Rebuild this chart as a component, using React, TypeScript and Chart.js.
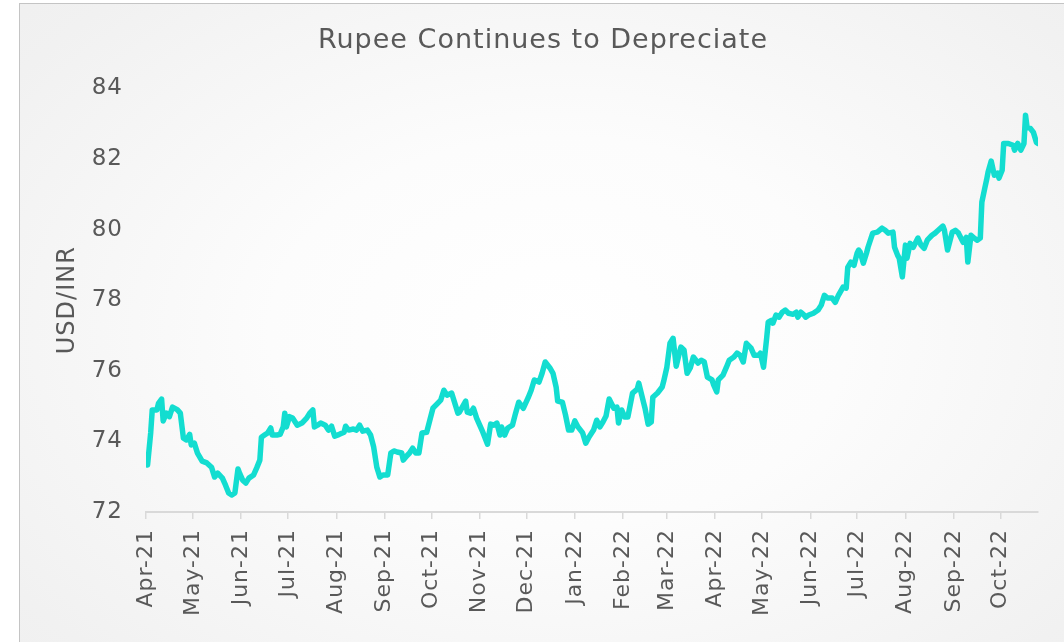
import React, { useEffect, useRef } from 'react';
import { Chart, registerables } from 'chart.js';

Chart.register(...registerables);

const TITLE = 'Rupee Continues to Depreciate';
const Y_TITLE = 'USD/INR';

const monthLabels = [
  'Apr-21', 'May-21', 'Jun-21', 'Jul-21', 'Aug-21', 'Sep-21', 'Oct-21', 'Nov-21', 'Dec-21',
  'Jan-22', 'Feb-22', 'Mar-22', 'Apr-22', 'May-22', 'Jun-22', 'Jul-22', 'Aug-22', 'Sep-22', 'Oct-22',
];

const Y_MIN = 72;
const Y_MAX = 84;
const Y_STEP = 2;

// 2021 observations (MM-DD) and USD/INR
const dates2021 = [
  '04-02', '04-04', '04-05', '04-08', '04-09', '04-11', '04-12', '04-14', '04-16', '04-18', '04-21', '04-23', '04-25', '04-27', '04-29', '04-30',
  '05-02', '05-04', '05-07', '05-10', '05-13', '05-15', '05-17', '05-20', '05-22', '05-24', '05-26', '05-28', '05-30', '05-31',
  '06-02', '06-04', '06-06', '06-09', '06-11', '06-13', '06-14', '06-16', '06-18', '06-20', '06-21', '06-24', '06-26', '06-28', '06-29', '06-30',
  '07-02', '07-04', '07-07', '07-10', '07-13', '07-15', '07-17', '07-18', '07-20', '07-22', '07-25', '07-27', '07-29', '07-31',
  '08-03', '08-06', '08-07', '08-09', '08-12', '08-14', '08-16', '08-18', '08-21', '08-23', '08-25', '08-27', '08-29', '08-31',
  '09-03', '09-05', '09-07', '09-09', '09-12', '09-13', '09-15', '09-17', '09-19', '09-21', '09-23', '09-25', '09-28', '09-30',
  '10-02', '10-05', '10-07', '10-09', '10-11', '10-14', '10-18', '10-19', '10-23', '10-24', '10-26', '10-28', '10-30',
  '11-01', '11-03', '11-06', '11-08', '11-10', '11-12', '11-14', '11-15', '11-17', '11-19', '11-22', '11-24', '11-26', '11-29',
  '12-02', '12-04', '12-06', '12-09', '12-11', '12-13', '12-16', '12-18', '12-20', '12-21', '12-24', '12-26', '12-28', '12-30',
];
const usdInr2021 = [
  73.33, 74.24, 74.89, 74.89, 75.08, 75.2, 74.58, 74.8, 74.7, 74.97, 74.9, 74.8, 74.09, 74.04, 74.2, 73.9,
  73.95, 73.67, 73.44, 73.39, 73.27, 72.99, 73.1, 72.96, 72.76, 72.54, 72.48, 72.54, 73.22, 73.1,
  72.9, 72.82, 72.96, 73.05, 73.25, 73.47, 74.12, 74.18, 74.24, 74.38, 74.18, 74.18, 74.2, 74.41, 74.8, 74.41,
  74.7, 74.66, 74.46, 74.52, 74.66, 74.8, 74.89, 74.41, 74.46, 74.52, 74.46, 74.32, 74.43, 74.15,
  74.2, 74.26, 74.43, 74.32, 74.35, 74.32, 74.46, 74.29, 74.32, 74.18, 73.84, 73.27, 72.99, 73.05,
  73.05, 73.67, 73.73, 73.7, 73.67, 73.47, 73.58, 73.67, 73.81, 73.67, 73.67, 74.24, 74.26, 74.6,
  74.94, 75.08, 75.17, 75.45, 75.31, 75.37, 74.8, 74.83, 75.14, 74.83, 74.8, 74.94, 74.66,
  74.46, 74.26, 73.92, 74.49, 74.46, 74.52, 74.18, 74.41, 74.18, 74.38, 74.46, 74.8, 75.11, 74.94,
  75.23, 75.45, 75.74, 75.68, 75.93, 76.25, 76.08, 75.93, 75.54, 75.14, 75.11, 74.75, 74.32, 74.32,
];

// 2022 observations (MM-DD) and USD/INR
const dates2022 = [
  '01-01', '01-03', '01-06', '01-08', '01-10', '01-13', '01-15', '01-17', '01-19', '01-21', '01-23', '01-26', '01-28', '01-29', '01-31',
  '02-02', '02-04', '02-07', '02-10', '02-11', '02-14', '02-15', '02-17', '02-19', '02-20', '02-23', '02-26', '02-27',
  '03-01', '03-03', '03-05', '03-07', '03-09', '03-10', '03-12', '03-14', '03-16', '03-18', '03-21', '03-23', '03-25', '03-27', '03-30', '03-31',
  '04-02', '04-03', '04-06', '04-08', '04-10', '04-13', '04-15', '04-17', '04-19', '04-21', '04-24', '04-26', '04-29', '04-30',
  '05-02', '05-04', '05-05', '05-07', '05-08', '05-10', '05-12', '05-14', '05-16', '05-18', '05-21', '05-23', '05-24', '05-26', '05-28', '05-29', '05-31',
  '06-03', '06-06', '06-08', '06-10', '06-12', '06-15', '06-17', '06-19', '06-22', '06-24', '06-25', '06-27', '06-29',
  '07-01', '07-02', '07-03', '07-05', '07-07', '07-08', '07-11', '07-14', '07-17', '07-19', '07-21', '07-24', '07-25', '07-27', '07-28', '07-30',
  '08-01', '08-02', '08-04', '08-06', '08-09', '08-11', '08-13', '08-15', '08-18', '08-20', '08-22', '08-25', '08-26', '08-28', '08-31',
  '09-02', '09-04', '09-07', '09-09', '09-10', '09-12', '09-14', '09-16', '09-18', '09-19', '09-21', '09-22', '09-23', '09-25', '09-27', '09-29', '09-30',
  '10-02', '10-03', '10-06', '10-09', '10-10', '10-12', '10-14', '10-16', '10-17', '10-18', '10-20', '10-22', '10-24', '10-25',
];
const usdInr2022 = [
  74.58, 74.41, 74.24, 73.95, 74.12, 74.32, 74.6, 74.41, 74.55, 74.72, 75.2, 74.94, 74.97, 74.52, 74.89,
  74.69, 74.69, 75.37, 75.48, 75.65, 75.11, 74.94, 74.49, 74.55, 75.25, 75.37, 75.54, 75.71,
  76.1, 76.78, 76.92, 76.13, 76.5, 76.67, 76.59, 75.93, 76.08, 76.39, 76.22, 76.3, 76.25, 75.82, 75.74, 75.6,
  75.4, 75.74, 75.88, 76.08, 76.3, 76.39, 76.5, 76.44, 76.25, 76.78, 76.64, 76.44, 76.44, 76.5,
  76.1, 76.92, 77.38, 77.43, 77.35, 77.58, 77.52, 77.66, 77.72, 77.63, 77.6, 77.66, 77.52, 77.66, 77.58, 77.52, 77.58,
  77.63, 77.72, 77.86, 78.14, 78.06, 78.06, 77.94, 78.14, 78.37, 78.34, 78.93, 79.08, 78.99,
  79.33, 79.42, 79.36, 79.05, 79.33, 79.5, 79.9, 79.93, 80.04, 79.98, 79.9, 79.93, 79.5, 79.27, 79.19, 78.66,
  79.56, 79.19, 79.61, 79.5, 79.76, 79.56, 79.47, 79.7, 79.84, 79.9, 79.98, 80.1, 79.98, 79.42, 79.93,
  79.98, 79.9, 79.64, 79.78, 79.08, 79.84, 79.76, 79.7, 79.76, 80.78, 81.2, 81.4, 81.63, 81.94, 81.54, 81.6, 81.46,
  81.68, 82.44, 82.44, 82.39, 82.25, 82.44, 82.25, 82.44, 83.24, 82.9, 82.87, 82.76, 82.47, 82.44,
];

const FONT = '"DejaVu Sans", sans-serif';
const TEXT = '#595959';
const LINE = '#13DDD0';
const AXIS = '#d9d9d9';

const MONTHS = ['Jan', 'Feb', 'Mar', 'Apr', 'May', 'Jun', 'Jul', 'Aug', 'Sep', 'Oct', 'Nov', 'Dec'];
const BASE = Date.UTC(2021, 3, 1);
const DAY_MS = 86400000;

function dayOf(year: number, month: number, day: number) {
  return (Date.UTC(year, month - 1, day) - BASE) / DAY_MS;
}
function seriesPoints(year: number, dates: string[], values: number[]) {
  return dates.map((md, i) => {
    const [m, d] = md.split('-').map(Number);
    return { x: dayOf(year, m, d), y: values[i] };
  });
}
const points = [...seriesPoints(2021, dates2021, usdInr2021), ...seriesPoints(2022, dates2022, usdInr2022)];
const monthTicks = monthLabels.map((lab) => {
  const [mon, yy] = lab.split('-');
  return dayOf(2000 + Number(yy), MONTHS.indexOf(mon) + 1, 1);
});
const xMax = points[points.length - 1].x;

const spacingPlugin = {
  id: 'spacing',
  beforeLayout(chart: any) {
    chart.ctx.letterSpacing = '1px';
  },
  beforeDraw(chart: any) {
    chart.ctx.letterSpacing = '1px';
  },
};

export default function App() {
  const ref = useRef<HTMLCanvasElement | null>(null);
  useEffect(() => {
    if (!ref.current) return;
    const chart = new Chart(ref.current, {
      type: 'line',
      data: {
        datasets: [
          {
            data: points,
            borderColor: LINE,
            backgroundColor: LINE,
            borderWidth: 5.5,
            pointRadius: 0,
            tension: 0,
            fill: false,
            borderJoinStyle: 'round',
            borderCapStyle: 'round',
          },
        ],
      },
      options: {
        animation: false,
        responsive: false,
        maintainAspectRatio: false,
        layout: { padding: { left: 48, right: 26, top: 0, bottom: 0 } },
        plugins: {
          legend: { display: false },
          tooltip: { enabled: false },
          title: {
            display: true,
            text: TITLE,
            color: TEXT,
            font: { family: FONT, size: 27, weight: 'normal' },
            padding: { top: 25, bottom: 31 },
          },
        },
        scales: {
          x: {
            type: 'linear',
            bounds: 'data',
            min: 0,
            max: xMax,
            afterBuildTicks: (scale: any) => {
              scale.ticks = monthTicks.map((v) => ({ value: v }));
            },
            afterFit: (scale: any) => {
              scale.height = 130;
            },
            ticks: {
              autoSkip: false,
              minRotation: 90,
              maxRotation: 90,
              padding: 10,
              color: TEXT,
              font: { family: FONT, size: 22 },
              callback: (_v: any, i: number) => monthLabels[i],
            },
            grid: { drawOnChartArea: false, drawTicks: true, tickLength: 7, color: AXIS, lineWidth: 1.5 },
            border: { display: true, color: AXIS, width: 2 },
          },
          y: {
            min: Y_MIN,
            max: Y_MAX,
            afterFit: (scale: any) => {
              scale.width = 98;
            },
            ticks: { stepSize: Y_STEP, padding: 23, color: TEXT, font: { family: FONT, size: 23 } },
            grid: { display: false, drawTicks: false },
            border: { display: false },
            title: {
              display: true,
              text: Y_TITLE,
              color: TEXT,
              font: { family: FONT, size: 24 },
              padding: { top: 5, bottom: 0 },
            },
          },
        },
      },
      plugins: [spacingPlugin],
    } as any);
    return () => chart.destroy();
  }, []);

  return (
    <div style={{ position: 'fixed', left: 0, top: 0, width: 1064, height: 642, overflow: 'hidden', background: '#ffffff' }}>
      <div
        style={{
          position: 'absolute',
          left: 19,
          top: 3,
          width: 1100,
          height: 700,
          border: '1px solid #c4c4c4',
          background: 'radial-gradient(ellipse 75% 80% at 49% 47%, #ffffff 0%, #fcfcfc 35%, #f1f1f1 80%, #eeeeee 100%)',
        }}
      />
      <canvas ref={ref} width={1064} height={642} style={{ position: 'absolute', left: 0, top: 0, width: 1064, height: 642 }} />
    </div>
  );
}
